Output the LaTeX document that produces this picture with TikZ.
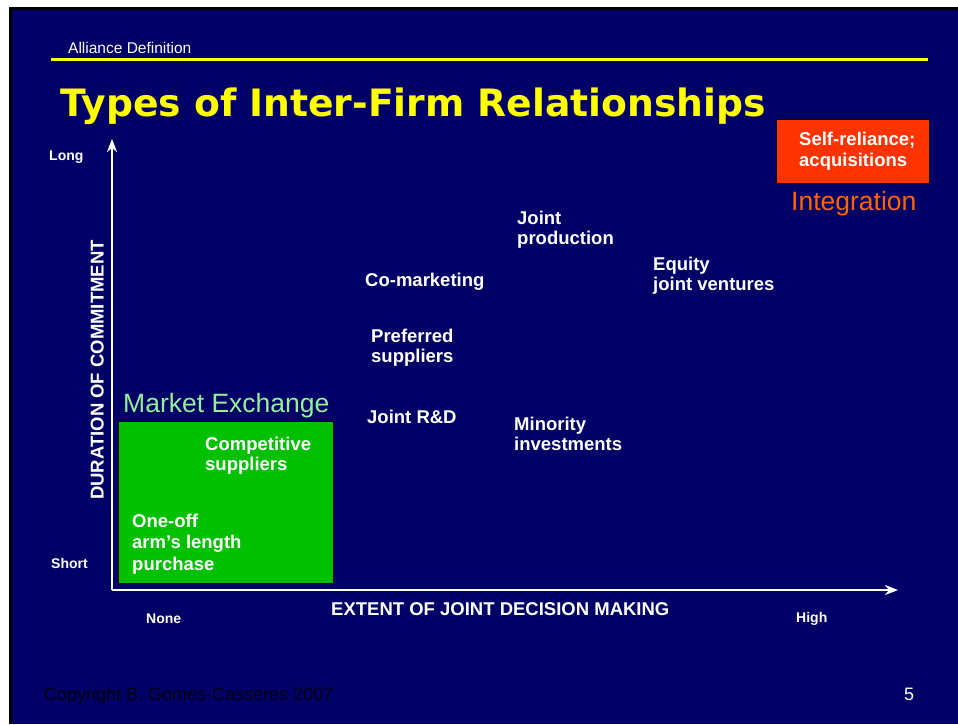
\documentclass[tikz,border=0pt]{standalone}
\usepackage{fontspec}
\setmainfont{Liberation Sans}
\newfontfamily\titlefont{DejaVu Sans}
\usetikzlibrary{arrows.meta}
\definecolor{slidebg}{RGB}{0,0,102}
\definecolor{titleyellow}{RGB}{255,255,0}
\definecolor{boxgreen}{RGB}{0,192,0}
\definecolor{labelgreen}{RGB}{150,240,150}
\definecolor{boxred}{RGB}{255,51,0}
\definecolor{labelorange}{RGB}{255,102,0}
\definecolor{footerdark}{RGB}{0,0,16}
\tikzset{
  lbl/.style={text=white, font=\bfseries\fontsize{18.5}{20}\selectfont, inner sep=0pt, anchor=base west, align=left},
  axislbl/.style={text=white, font=\bfseries\fontsize{14}{16}\selectfont, inner sep=0pt, anchor=base west},
  grouplbl/.style={font=\fontsize{26.5}{30}\selectfont, inner sep=0pt, anchor=base west},
  axis/.style={white, line width=2.4pt, -{Stealth[length=13pt,width=10pt,inset=4pt]}},
}
\begin{document}
\begin{tikzpicture}[x=1pt,y=-1pt]
% page, frame and slide background
\useasboundingbox (0,0) rectangle (958,724);
\fill[white] (0,0) rectangle (958,724);
\fill[black] (9,7) rectangle (958,724);
\fill[slidebg] (11.5,9.5) rectangle (958,724);

% header
\node[text=white, font=\fontsize{15.5}{18}\selectfont, inner sep=0pt, anchor=base west] (hdr) at (68,53) {Alliance Definition};
\coordinate (ruleL) at (51,59.5);
\coordinate (ruleR) at (928,59.5);
\draw[titleyellow, line width=2.2pt] (ruleL) -- (ruleR);
\node[text=titleyellow, font=\titlefont\bfseries\fontsize{37.7}{40}\selectfont, inner sep=0pt, anchor=base west] (title) at (60,116) {Types of Inter-Firm Relationships};

% axes
\coordinate (origin) at (112,590);
\coordinate (ytip) at (112,139);
\coordinate (xtip) at (898,590);
\draw[axis] (origin) -- (ytip);
\draw[axis] (origin) -- (xtip);

\node[axislbl] (long) at (49,160) {Long};
\node[axislbl] (short) at (51,568) {Short};
\node[axislbl] (none) at (146,623) {None};
\node[axislbl] (high) at (796,622) {High};
\node[lbl] (xlabel) at (331,615) {EXTENT OF JOINT DECISION MAKING};
\node[lbl, rotate=90] (ylabel) at (103.5,500) {DURATION OF COMMITMENT};

% market exchange region
\node[draw=black, line width=0.8pt, fill=boxgreen, minimum width=215pt, minimum height=162pt, inner sep=0pt, anchor=north west] (market) at (118,421) {};
\node[grouplbl, text=labelgreen] (marketlbl) at (123,412) {Market Exchange};
\node[lbl] (compsup) at (205,470) {Competitive\\suppliers};
\node[lbl, font=\bfseries\fontsize{18.5}{21.5}\selectfont] (oneoff) at (132,570) {One-off\\arm’s length\\purchase};

% integration region
\node[draw=black, line width=0.8pt, fill=boxred, minimum width=153pt, minimum height=64pt, inner sep=0pt, anchor=north west] (integ) at (776,119) {};
\node[lbl, font=\bfseries\fontsize{18.5}{21}\selectfont] (selfrel) at (799,166) {Self-reliance;\\acquisitions};
\node[grouplbl, text=labelorange] (integlbl) at (791,210) {Integration};

% intermediate relationships
\node[lbl] (jprod) at (517,244) {Joint\\production};
\node[lbl] (equity) at (653,290) {Equity\\joint ventures};
\node[lbl] (comkt) at (365,286) {Co-marketing};
\node[lbl] (prefsup) at (371,362) {Preferred\\suppliers};
\node[lbl] (jrd) at (367,423) {Joint R\&D};
\node[lbl] (minority) at (514,450) {Minority\\investments};

% footer
\node[text=footerdark, font=\fontsize{18}{20}\selectfont, inner sep=0pt, anchor=base west] (copy) at (44,700) {Copyright B. Gomes-Casseres 2007};
\node[text=white, font=\fontsize{18}{20}\selectfont, inner sep=0pt, anchor=base west] (pageno) at (904,700) {5};
\end{tikzpicture}
\end{document}
